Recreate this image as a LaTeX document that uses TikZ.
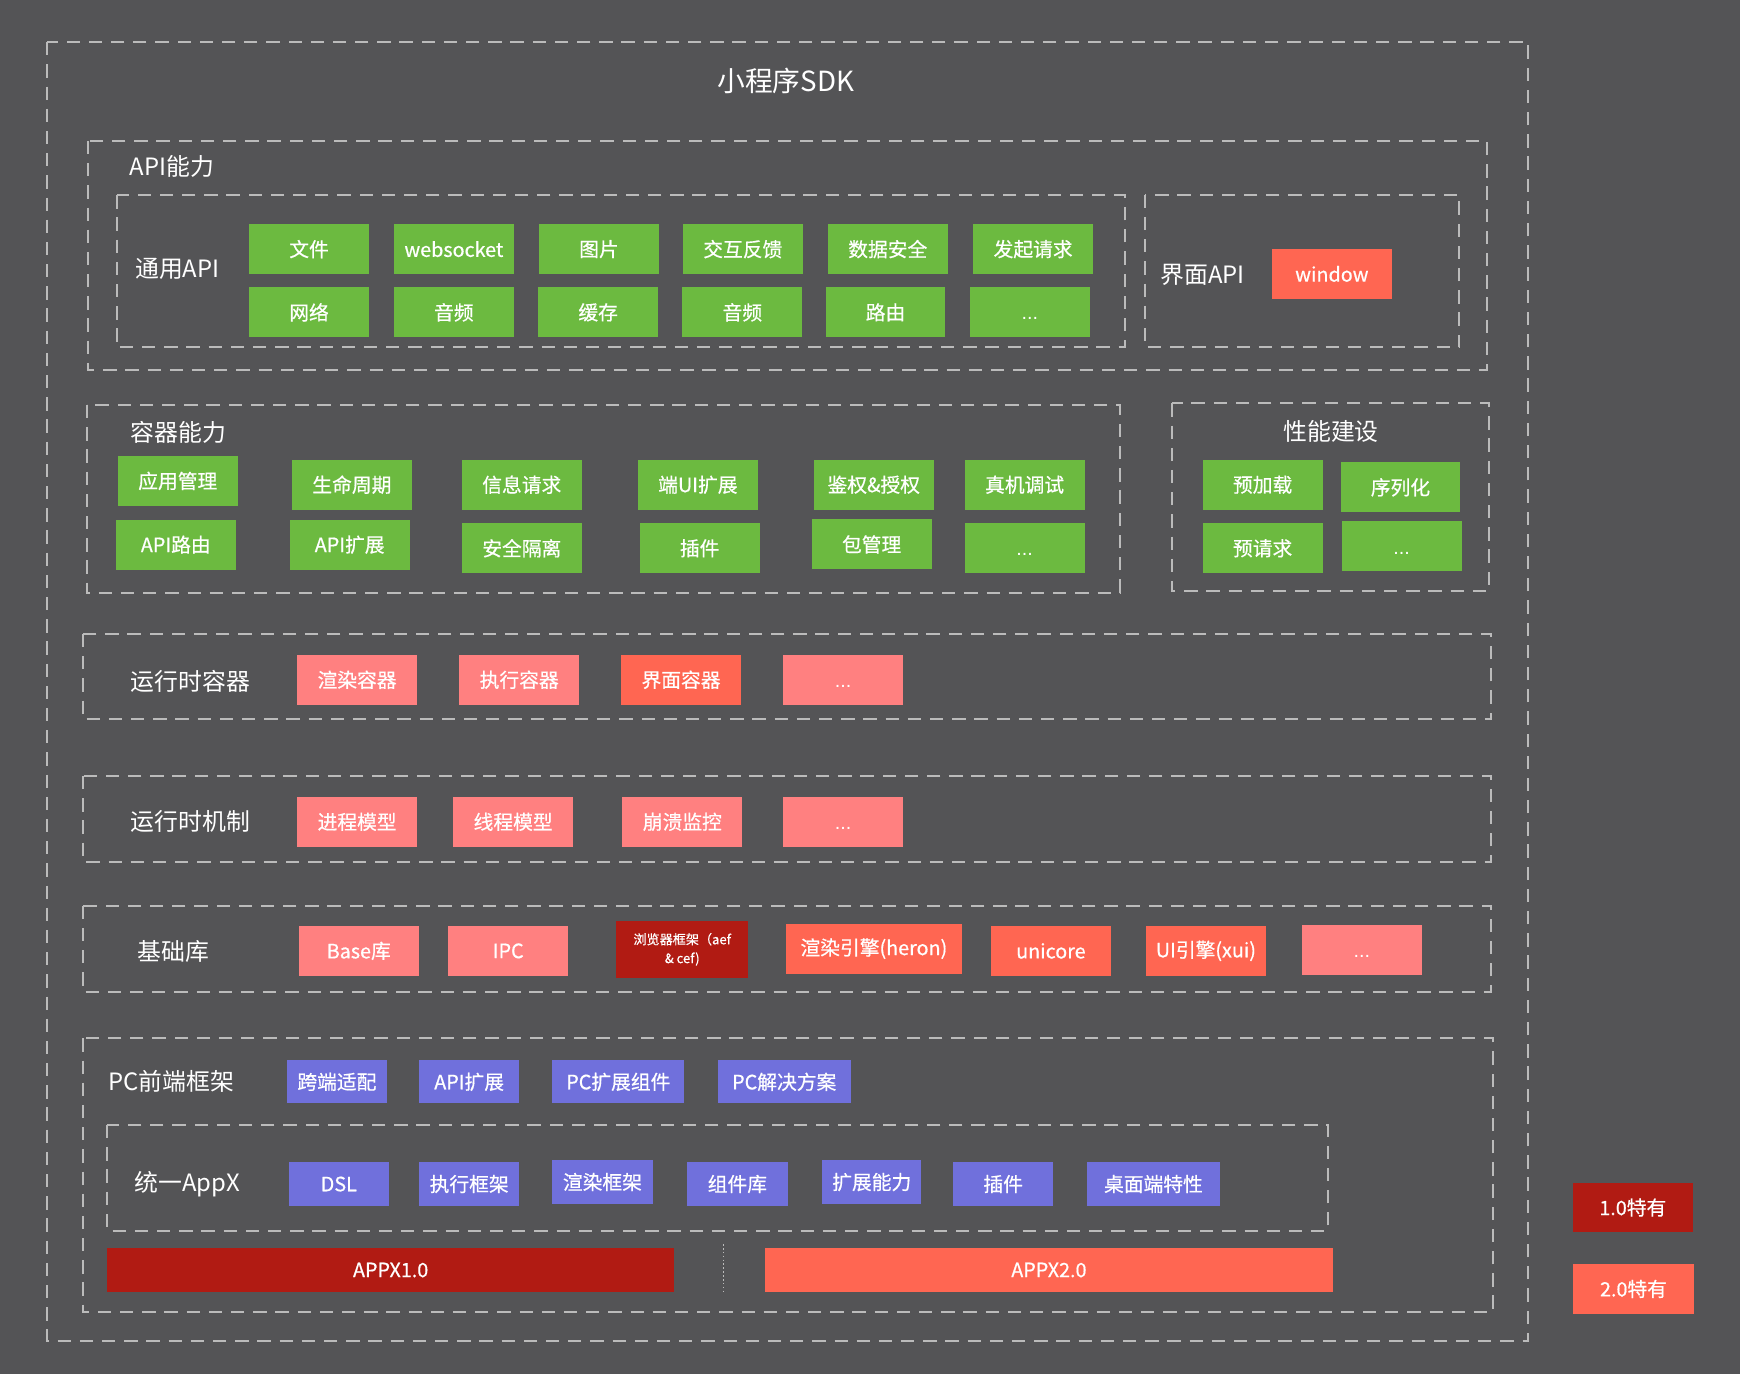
\documentclass[tikz,border=0pt]{standalone}
\usepackage{fontspec}
\setmainfont{Noto Sans CJK SC}
\newfontfamily\boxfont[FakeBold=0.6]{Noto Sans CJK SC}
\newfontfamily\dotfont{Liberation Sans}
\newcommand\mydots{\vphantom{文}{\dotfont ...}}
\definecolor{bgc}{HTML}{545456}
\definecolor{dashc}{HTML}{BBBBBB}
\definecolor{cgreen}{HTML}{6CBA40}
\definecolor{cpink}{HTML}{FF8080}
\definecolor{ctomato}{HTML}{FF6652}
\definecolor{cdred}{HTML}{B11B13}
\definecolor{cpurple}{HTML}{7070DC}
\tikzset{
  dbox/.style={draw=dashc, line width=1.8pt, dash pattern=on 12pt off 8pt},
  blk/.style={minimum width=108pt, minimum height=45pt, inner sep=0pt, text=white, align=center, font=\boxfont\fontsize{17.8}{20}\selectfont},
  gb/.style={blk, fill=cgreen},
  pk/.style={blk, fill=cpink},
  tm/.style={blk, fill=ctomato},
  dr/.style={blk, fill=cdred},
  pu/.style={blk, fill=cpurple, minimum height=39pt, minimum width=90.5pt},
  ttl/.style={text=white, font=\fontsize{21.5}{24}\selectfont, inner sep=0pt, anchor=west},
}
\begin{document}
\begin{tikzpicture}[x=1pt,y=-1pt]
\fill[bgc] (0,0) rectangle (1568,1238);
\useasboundingbox (0,0) rectangle (1568,1238);
% containers
\draw[dbox] (42,38) rectangle (1377,1208);
\draw[dbox] (79,127) rectangle (1340,333);
\draw[dbox] (105,176) rectangle (1013.5,313);
\draw[dbox] (1032,175.5) rectangle (1315,313);
\draw[dbox] (78,365) rectangle (1009,534);
\draw[dbox] (1056,363.5) rectangle (1342,532.3);
\draw[dbox] (75,571.3) rectangle (1344,648.2);
\draw[dbox] (75,699.3) rectangle (1344,776.5);
\draw[dbox] (74.5,816.2) rectangle (1343.4,893.6);
\draw[dbox] (74.5,935.7) rectangle (1345.6,1182);
\draw[dbox] (96.7,1013.8) rectangle (1196.8,1109);
% titles
\node[text=white, font=\fontsize{25}{28}\selectfont, inner sep=0pt] (tsdk) at (708,73) {小程序SDK};
\node[ttl] (tapi) at (116.6,150) {API能力};
\node[ttl] (tgen) at (121.7,242.4) {通用API};
\node[ttl] (tui) at (1045.4,247.8) {界面API};
\node[ttl] (tcon) at (117.5,390) {容器能力};
\node[ttl, anchor=center] (tperf) at (1199.5,389) {性能建设};
\node[ttl] (trc) at (117.7,613.7) {运行时容器};
\node[ttl] (trm) at (117.7,740.4) {运行时机制};
\node[ttl] (tbase) at (123.7,857) {基础库};
\node[ttl] (tpc) at (97.7,974.2) {PC前端框架};
\node[ttl] (tappx) at (121,1067.3) {统一AppX};
% API
\node[gb] (g1) at (278.5,224.5) {文件};
\node[gb] (g2) at (409,224.5) {websocket};
\node[gb] (g3) at (539.8,224.5) {图片};
\node[gb] (g4) at (669.4,224.5) {交互反馈};
\node[gb] (g5) at (800,224.5) {数据安全};
\node[gb] (g6) at (931,224.5) {发起请求};
\node[gb] (g7) at (278.5,281.5) {网络};
\node[gb] (g8) at (409,281.5) {音频};
\node[gb] (g9) at (539,281.5) {缓存};
\node[gb] (g10) at (669,281.5) {音频};
\node[gb] (g11) at (798,281.5) {路由};
\node[gb] (g12) at (928,281.5) {\mydots};
\node[tm] (win) at (1200.2,246.8) {window};
% container abilities
\node[gb] (c1) at (160.2,433.4) {应用管理};
\node[gb] (c2) at (158.4,490.8) {API路由};
\node[gb] (c3) at (317.1,436.8) {生命周期};
\node[gb] (c4) at (315.1,490.8) {API扩展};
\node[gb] (c5) at (470.2,436.8) {信息请求};
\node[gb] (c6) at (470.2,494.1) {安全隔离};
\node[gb] (c7) at (628.9,436.8) {端UI扩展};
\node[gb] (c8) at (630.5,494.1) {插件};
\node[gb] (c9) at (787.4,436.8) {鉴权\&授权};
\node[gb] (c10) at (785.5,490.6) {包管理};
\node[gb] (c11) at (923.3,436.8) {真机调试};
\node[gb] (c12) at (923.3,494.1) {\mydots};
\node[gb] (p1) at (1137.8,436.8) {预加载};
\node[gb] (p2) at (1262,439.2) {序列化};
\node[gb] (p3) at (1137.8,494.1) {预请求};
\node[gb] (p4) at (1263.1,492.4) {\mydots};
% runtime container
\node[pk] (r1) at (321.8,612.6) {渲染容器};
\node[pk] (r2) at (467.9,612.6) {执行容器};
\node[tm] (r3) at (613.7,612.6) {界面容器};
\node[pk] (r4) at (759.7,612.6) {\mydots};
% runtime mechanism
\node[pk] (m1) at (321.8,740.6) {进程模型};
\node[pk] (m2) at (462.4,740.6) {线程模型};
\node[pk] (m3) at (614.9,740.6) {崩溃监控};
\node[pk] (m4) at (759.7,740.6) {\mydots};
% base
\node[pk] (b1) at (323.3,856.9) {Base库};
\node[pk] (b2) at (458,856.9) {IPC};
\node[dr, minimum width=119.4pt, minimum height=51pt, font=\boxfont\fontsize{11.8}{17}\selectfont] (b3) at (614.8,855.5) {浏览器框架（aef\\\& cef)};
\node[tm, minimum width=158.3pt] (b4) at (787.5,854.9) {渲染引擎(heron)};
\node[tm] (b5) at (947,856.9) {unicore};
\node[tm] (b6) at (1086.7,856.9) {UI引擎(xui)};
\node[pk] (b7) at (1227.2,855.8) {\mydots};
% PC
\node[pu, minimum width=89.5pt] (f1) at (303.6,974.9) {跨端适配};
\node[pu] (f2) at (422.8,974.9) {API扩展};
\node[pu, minimum width=119pt] (f3) at (557.2,974.9) {PC扩展组件};
\node[pu, minimum width=119.7pt] (f4) at (706.7,974.9) {PC解决方案};
% AppX
\node[pu, minimum width=90pt] (a1) at (305.3,1067) {DSL};
\node[pu] (a2) at (422.8,1067) {执行框架};
\node[pu] (a3) at (542.9,1065.2) {渲染框架};
\node[pu] (a4) at (664.5,1067) {组件库};
\node[pu, minimum width=89.5pt] (a5) at (785.6,1065.2) {扩展能力};
\node[pu] (a6) at (904,1067) {插件};
\node[pu, minimum width=119.2pt] (a7) at (1039.4,1067) {桌面端特性};
% APPX versions
\node[dr, minimum width=511.6pt, minimum height=39pt] (v1) at (352,1144.5) {APPX1.0};
\node[tm, minimum width=511.2pt, minimum height=39pt] (v2) at (945.2,1144.5) {APPX2.0};
\coordinate (s1) at (652.3,1121);
\coordinate (s2) at (652.3,1166);
\draw[dashc, line width=1pt, dash pattern=on 1.5pt off 2pt] (s1) -- (s2);
% legend
\node[dr, minimum height=43.6pt] (l1) at (1471.4,1088.2) {1.0特有};
\node[tm, minimum width=109pt] (l2) at (1472,1161.5) {2.0特有};
\end{tikzpicture}
\end{document}
